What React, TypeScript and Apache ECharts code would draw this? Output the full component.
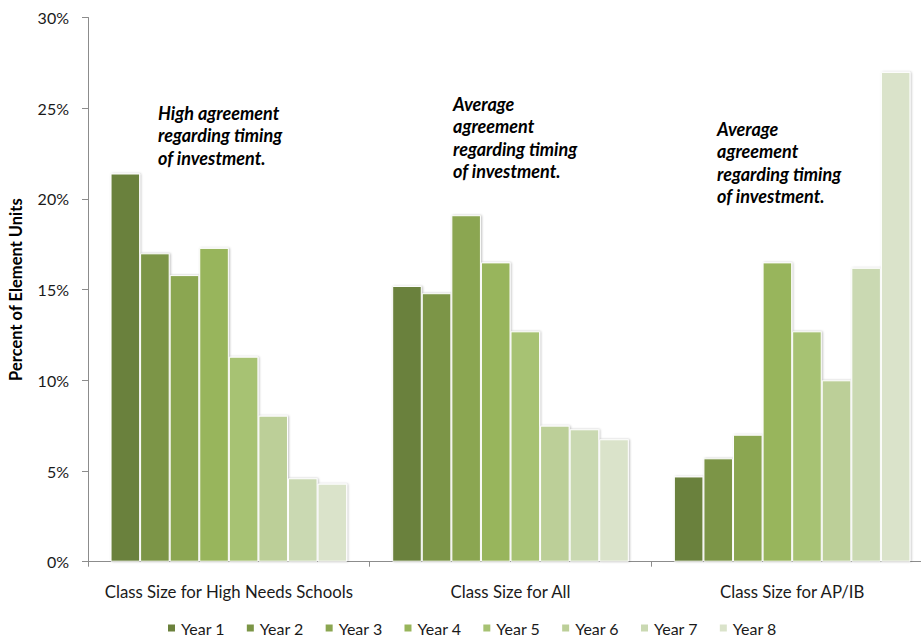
import React, { useEffect, useRef } from "react";
import * as echarts from "echarts";

const categories = [
  "Class Size for High Needs Schools",
  "Class Size for All",
  "Class Size for AP/IB",
];
const seriesNames = ["Year 1", "Year 2", "Year 3", "Year 4", "Year 5", "Year 6", "Year 7", "Year 8"];
const year1 = [21.4, 15.2, 4.7];
const year2 = [17.0, 14.8, 5.7];
const year3 = [15.8, 19.1, 7.0];
const year4 = [17.3, 16.5, 16.5];
const year5 = [11.3, 12.7, 12.7];
const year6 = [8.05, 7.5, 10.0];
const year7 = [4.6, 7.3, 16.2];
const year8 = [4.3, 6.75, 27.0];
const seriesValues = [year1, year2, year3, year4, year5, year6, year7, year8];
const colors = ["#6b813c", "#7b9546", "#8ba651", "#98b55b", "#a7c273", "#bccf98", "#cad9b2", "#dae3ca"];
const yTicks = [0, 5, 10, 15, 20, 25, 30];
const annotations = [
  { lines: ["High agreement", "regarding timing", "of investment."], x: 158, y: 102 },
  { lines: ["Average", "agreement", "regarding timing", "of investment."], x: 453, y: 93 },
  { lines: ["Average", "agreement", "regarding timing", "of investment."], x: 717, y: 118 },
];

const FONT = "Lato, 'Open Sans', sans-serif";

export default function App() {
  const ref = useRef<HTMLDivElement>(null);
  useEffect(() => {
    if (!ref.current) return;
    const chart = echarts.init(ref.current, undefined, { renderer: "svg" });
    chart.setOption({
      animation: false,
      backgroundColor: "#ffffff",
      textStyle: { fontFamily: FONT },
      grid: {
        left: 88,
        width: 845,
        top: 17.5,
        height: 544.2,
        containLabel: false,
        outerBoundsMode: "none",
      },
      legend: {
        data: seriesNames,
        left: 166,
        top: 620,
        padding: 0,
        itemWidth: 9,
        itemHeight: 9,
        itemGap: 20,
        icon: "rect",
        textStyle: { fontFamily: FONT, fontSize: 16, lineHeight: 16, color: "#1a1a1a" },
      },
      xAxis: {
        type: "category",
        data: categories,
        axisLine: { lineStyle: { color: "#8c8c8c", width: 1 } },
        axisTick: { show: true, length: 5, lineStyle: { color: "#8c8c8c" } },
        axisLabel: { interval: 0, fontFamily: FONT, fontSize: 16.8, color: "#1a1a1a", margin: 21 },
      },
      yAxis: {
        type: "value",
        min: yTicks[0],
        max: yTicks[yTicks.length - 1],
        interval: 5,
        name: "Percent of Element Units",
        nameLocation: "middle",
        nameGap: 64,
        nameTextStyle: { fontFamily: FONT, fontSize: 16.5, fontWeight: "bold", color: "#000" },
        axisLine: { show: true, lineStyle: { color: "#8c8c8c", width: 1 } },
        axisTick: { show: true, length: 6, lineStyle: { color: "#8c8c8c" } },
        splitLine: { show: false },
        axisLabel: { fontFamily: FONT, fontSize: 16, color: "#1a1a1a", margin: 19, formatter: "{value}%" },
      },
      series: seriesValues.map((vals, i) => ({
        name: seriesNames[i],
        type: "bar",
        data: vals,
        barGap: "0%",
        barCategoryGap: "16%",
        itemStyle: {
          color: colors[i],
          borderColor: "#ffffff",
          borderWidth: 1,
          shadowColor: "rgba(0,0,0,0.25)",
          shadowBlur: 2,
          shadowOffsetX: 1,
        },
      })),
      graphic: annotations.map((a) => ({
        type: "text",
        left: a.x,
        top: a.y,
        style: {
          text: a.lines.join("\n"),
          font: `italic bold 18px ${FONT}`,
          lineHeight: 22.3,
          fill: "#000",
        },
      })),
    });
    return () => chart.dispose();
  }, []);
  return (
    <div
      ref={ref}
      style={{ position: "fixed", left: 0, top: 0, width: 921, height: 639 }}
    />
  );
}
